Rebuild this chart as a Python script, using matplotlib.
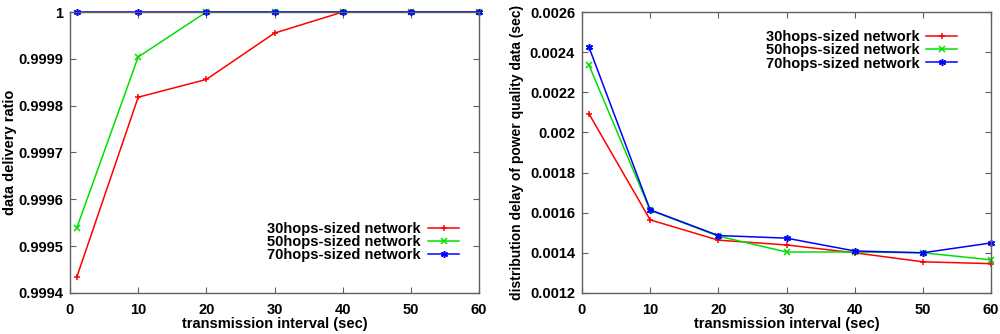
import matplotlib
matplotlib.use("Agg")
import matplotlib.pyplot as plt

plt.rcParams['font.family'] = ['Liberation Sans', 'DejaVu Sans']
plt.rcParams['font.weight'] = 'bold'

x = [1, 10, 20, 30, 40, 50, 60]
labels = ['30hops-sized network', '50hops-sized network', '70hops-sized network']
colors = ['#ff0000', '#00e000', '#0000ff']
markers = ['+', 'x', (6, 2, 0)]

ratio_30 = [0.999434, 0.999818, 0.999856, 0.999955, 1.0, 1.0, 1.0]
ratio_50 = [0.999539, 0.999904, 1.0, 1.0, 1.0, 1.0, 1.0]
ratio_70 = [1.0, 1.0, 1.0, 1.0, 1.0, 1.0, 1.0]

delay_30 = [0.002094, 0.001564, 0.001463, 0.001439, 0.001400, 0.001355, 0.001346]
delay_50 = [0.002337, 0.001612, 0.001483, 0.001404, 0.001404, 0.001400, 0.001365]
delay_70 = [0.002427, 0.001614, 0.001486, 0.001473, 0.001409, 0.001400, 0.001449]

ratio_ticks = [0.9994, 0.9995, 0.9996, 0.9997, 0.9998, 0.9999, 1.0]
ratio_ticklabels = ['0.9994', '0.9995', '0.9996', '0.9997', '0.9998', '0.9999', '1']
delay_ticks = [0.0012, 0.0014, 0.0016, 0.0018, 0.002, 0.0022, 0.0024, 0.0026]
delay_ticklabels = ['0.0012', '0.0014', '0.0016', '0.0018', '0.002', '0.0022', '0.0024', '0.0026']
x_ticks = [0, 10, 20, 30, 40, 50, 60]

fig = plt.figure(figsize=(10, 3.34), dpi=100)
ax1 = fig.add_axes([0.070, 0.123, 0.409, 0.841])
ax2 = fig.add_axes([0.582, 0.123, 0.409, 0.841])

def style(ax):
    for s in ax.spines.values():
        s.set_color('#606060')
        s.set_linewidth(1.0)
    ax.tick_params(direction='in', top=True, right=True, length=4, width=0.8,
                   color='#606060', labelsize=10.5)
    ax.tick_params(axis='x', pad=7)
    ax.tick_params(axis='y', pad=5)
    ax.set_xlim(0, 60)
    ax.set_xticks(x_ticks)
    ax.set_xlabel('transmission interval (sec)', fontsize=10.5, fontweight='bold', labelpad=0.5)

for ax, series, ylab, lp, fs in [(ax1, [ratio_30, ratio_50, ratio_70], 'data delivery ratio', 1, 10.5),
                                 (ax2, [delay_30, delay_50, delay_70], 'distribution delay of power quality data (sec)', 4, 10)]:
    for ys, c, m, lab in zip(series, colors, markers, labels):
        ax.plot(x, ys, color=c, marker=m, markersize=5, markeredgewidth=1.1,
                linewidth=1.1, label=lab, clip_on=False)
    style(ax)
    ax.set_ylabel(ylab, fontsize=fs, fontweight='bold', labelpad=lp)

ax1.set_ylim(0.9994, 1.0)
ax1.set_yticks(ratio_ticks)
ax1.set_yticklabels(ratio_ticklabels)
ax2.set_ylim(0.0012, 0.0026)
ax2.set_yticks(delay_ticks)
ax2.set_yticklabels(delay_ticklabels)

leg_kw = dict(frameon=False, markerfirst=False, fontsize=10.5, handlelength=2.1,
              handletextpad=0.5, labelspacing=-0.06, borderpad=0, borderaxespad=0)
ax1.legend(loc='lower right', bbox_to_anchor=(0.951, 0.11), **leg_kw)
ax2.legend(loc='upper right', bbox_to_anchor=(0.917, 0.935), **leg_kw)

fig.savefig('out.png', dpi=100)
